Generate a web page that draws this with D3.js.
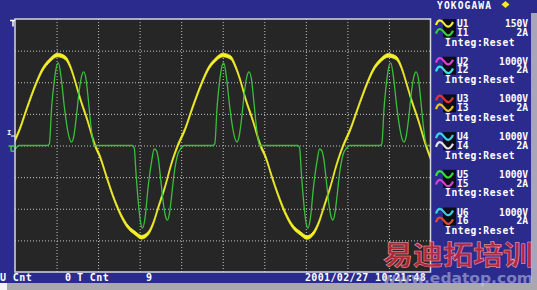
<!doctype html>
<html>
<head>
	<meta charset="utf-8">
	<title>Waveform display</title>
	<script src="https://cdn.jsdelivr.net/npm/d3@7/dist/d3.min.js"></script>
	<style>
		body { margin: 0; background: #2b2b8e; }
		svg { display: block; }
		.mono { font-family: "DejaVu Sans Mono", monospace; font-weight: bold; fill: #ffffff; }
		.grid line { stroke: #c4c4c4; stroke-dasharray: 1,2; }
		.grid path { display: none; }
	</style>
</head>
<body>
	<script>
		// U1 trace: [time in ms, value in divisions]
		var u1Trace = [
			[0,0.17],[0.53,0.49],[1.49,1.22],[2.57,1.98],[3.29,2.39],[4.25,2.71],[5.10,2.86],[6.06,2.77],[6.66,2.49],[7.26,2.01],[7.86,1.47],[8.70,0.81],[9.64,0],
			[10.24,-0.36],[11.03,-1.00],[11.84,-1.63],[12.64,-2.14],[13.44,-2.52],[14.45,-2.77],[15.24,-2.90],[16.05,-2.77],[16.65,-2.45],[17.25,-1.95],[18.05,-1.31],[18.85,-0.55],[19.59,0],
			[20.43,0.49],[21.39,1.22],[22.48,1.98],[23.20,2.40],[24.16,2.72],[25.00,2.86],[25.96,2.78],[26.56,2.48],[27.16,2.02],[27.76,1.46],[28.61,0.80],[29.54,0],
			[30.14,-0.35],[30.94,-1.01],[31.74,-1.62],[32.55,-2.15],[33.34,-2.53],[34.35,-2.78],[35.14,-2.91],[35.95,-2.76],[36.55,-2.44],[37.15,-1.96],[37.96,-1.30],[38.75,-0.56],[39.50,0],
			[40.34,0.50],[41.30,1.21],[42.38,1.97],[43.10,2.39],[44.06,2.71],[44.90,2.85],[45.87,2.77],[46.47,2.49],[47.07,2.00],[47.67,1.47],[48.51,0.82],[49.45,0],[50.00,-0.40]
		];

		// I1 trace: [time in ms, value in divisions]
		var i1Trace = [
			[0,-0.13],[0.46,0],[3.89,0],
			[4.13,0.05],[4.41,1.22],[4.74,2.07],[4.98,2.48],[5.22,2.61],[5.54,2.17],[5.94,1.22],[6.33,0.49],[6.57,0.21],[6.81,0.11],[7.06,0.27],[7.34,0.81],[7.74,1.76],[8.02,2.20],[8.26,2.33],[8.52,2.14],[8.74,1.66],[9.15,0.59],[9.36,0.17],[9.54,0],
			[14.15,0],
			[14.35,-0.08],[14.56,-0.87],[14.87,-1.88],[15.11,-2.42],[15.35,-2.61],[15.65,-2.29],[16.01,-1.34],[16.43,-0.52],[16.75,-0.11],[17.03,-0.17],[17.27,-0.46],[17.57,-1.16],[17.93,-1.98],[18.17,-2.29],[18.35,-2.36],[18.59,-2.14],[18.83,-1.63],[19.16,-0.87],[19.56,-0.30],[19.96,-0.09],[20.36,0],
			[23.80,0],
			[24.04,0.05],[24.32,1.22],[24.64,2.07],[24.88,2.48],[25.12,2.61],[25.44,2.17],[25.84,1.22],[26.24,0.49],[26.48,0.21],[26.72,0.11],[26.96,0.27],[27.25,0.81],[27.64,1.76],[27.92,2.20],[28.16,2.33],[28.43,2.14],[28.64,1.66],[29.05,0.59],[29.27,0.17],[29.45,0],
			[34.05,0],
			[34.25,-0.08],[34.46,-0.87],[34.77,-1.88],[35.01,-2.42],[35.25,-2.61],[35.55,-2.29],[35.91,-1.34],[36.33,-0.52],[36.66,-0.11],[36.93,-0.17],[37.18,-0.46],[37.48,-1.16],[37.84,-1.98],[38.08,-2.29],[38.26,-2.36],[38.50,-2.14],[38.74,-1.63],[39.06,-0.87],[39.46,-0.30],[39.87,-0.09],[40.26,0],
			[43.90,0],
			[44.14,0.05],[44.42,1.22],[44.74,2.07],[44.98,2.48],[45.22,2.61],[45.54,2.17],[45.94,1.22],[46.34,0.49],[46.58,0.21],[46.82,0.11],[47.06,0.27],[47.35,0.81],[47.74,1.76],[48.02,2.20],[48.26,2.33],[48.53,2.14],[48.74,1.66],[49.15,0.59],[49.37,0.17],[49.55,0],[50,0]
		];

		var xTicks = [5, 10, 15, 20, 25, 30, 35, 40, 45];
		var yTicks = [-3, -2, -1, 0, 1, 2, 3];

		var channels = ['1', '2', '3', '4', '5', '6'];
		var voltageRanges = ['150V', '1000V', '1000V', '1000V', '1000V', '1000V'];
		var currentRanges = ['2A', '2A', '2A', '2A', '2A', '2A'];
		var integStatus = 'Integ:Reset';

		var uColors = ['#f2f02c', '#e040e0', '#e03434', '#36d4e4', '#34e034', '#36d4e4'];
		var iColors = ['#38d038', '#34e4e4', '#e8c024', '#e4e4e4', '#d444d4', '#e44a30'];

		var W = 537, H = 290;
		var plot = {left: 15, top: 19, right: 430.5, bottom: 272};

		var svg = d3.select('body').append('svg')
			.attr('width', W)
			.attr('height', H);

		svg.append('rect').attr('width', W).attr('height', H).attr('fill', '#2b2b8e');

		// status strips at the edges
		svg.append('rect').attr('x', 0).attr('y', 283).attr('width', W).attr('height', 7).attr('fill', '#a9a9ad');
		svg.append('rect').attr('x', 0).attr('y', 283).attr('width', 7).attr('height', 7).attr('fill', '#f4f4f4');
		svg.append('rect').attr('x', 531).attr('y', 13).attr('width', 6).attr('height', 270).attr('fill', '#a6a6b8');

		var x = d3.scaleLinear().domain([0, 50]).range([plot.left, plot.right]);
		var y = d3.scaleLinear().domain([-4, 4]).range([plot.bottom, plot.top]);

		svg.append('rect')
			.attr('x', plot.left).attr('y', plot.top)
			.attr('width', plot.right - plot.left).attr('height', plot.bottom - plot.top)
			.attr('fill', '#262626');

		svg.append('g').attr('class', 'grid')
			.attr('transform', 'translate(0,' + plot.bottom + ')')
			.call(d3.axisBottom(x).tickValues(xTicks).tickSize(-(plot.bottom - plot.top)).tickFormat(''));

		svg.append('g').attr('class', 'grid')
			.attr('transform', 'translate(' + plot.left + ',0)')
			.call(d3.axisLeft(y).tickValues(yTicks).tickSize(-(plot.right - plot.left)).tickFormat(''));

		svg.append('clipPath').attr('id', 'clip')
			.append('rect')
			.attr('x', plot.left).attr('y', plot.top)
			.attr('width', plot.right - plot.left).attr('height', plot.bottom - plot.top);

		var traces = svg.append('g').attr('clip-path', 'url(#clip)');

		// U1: a band, because many sweeps overlap
		var band = d3.area()
			.x(function(d) { return x(d[0]); })
			.y0(function(d) { return y(d[1]) - 1.8; })
			.y1(function(d) { return y(d[1]) + 1.8; })
			.curve(d3.curveMonotoneX);

		traces.append('path')
			.datum(u1Trace)
			.attr('d', band)
			.attr('fill', '#f4f02a')
			.attr('stroke', '#f4f02a')
			.attr('stroke-width', 0.8);

		var line = d3.line()
			.x(function(d) { return x(d[0]); })
			.y(function(d) { return y(d[1]); })
			.curve(d3.curveMonotoneX);

		traces.append('path')
			.datum(i1Trace)
			.attr('d', line)
			.attr('fill', 'none')
			.attr('stroke', '#3cbe3c')
			.attr('stroke-width', 1.3);

		svg.append('rect')
			.attr('x', plot.left).attr('y', plot.top)
			.attr('width', plot.right - plot.left).attr('height', plot.bottom - plot.top)
			.attr('fill', 'none')
			.attr('stroke', '#d6d6e0')
			.attr('stroke-width', 1.5);

		// level markers on the left edge
		svg.append('path').attr('d', 'M10,20.5H15M13,20.5V26.5').attr('stroke', '#ffffff').attr('stroke-width', 1.5).attr('fill', 'none');
		svg.append('text').attr('class', 'mono').attr('x', 7).attr('y', 134.5).attr('font-size', 7).text('I');
		svg.append('path').attr('d', 'M11,136H15').attr('stroke', '#ffffff').attr('stroke-width', 1).attr('fill', 'none');
		svg.append('path').attr('d', 'M8.5,146H15M11,146V150.5Q11,152 14,151').attr('stroke', '#46c846').attr('stroke-width', 1.4).attr('fill', 'none');

		// header
		svg.append('text').attr('class', 'mono')
			.attr('x', 437).attr('y', 8.7)
			.attr('font-size', 9.6)
			.attr('letter-spacing', 1.1)
			.text('YOKOGAWA');
		svg.append('path').attr('d', 'M505.5,1L509.5,4.5L505.5,8L501.5,4.5Z').attr('fill', '#f4e830');

		// channel legend
		var wave = 'M0,1.5C2,-4.5 5,-4.5 8,0S14,4.5 17,-1.5';
		var legend = svg.selectAll('g.channel')
			.data(channels)
			.enter()
			.append('g')
			.attr('class', 'channel')
			.attr('transform', function(d, i) { return 'translate(0,' + (27 + 37.7 * i) + ')'; });

		legend.append('rect')
			.attr('x', 443).attr('y', -8).attr('width', 13).attr('height', 18)
			.attr('fill', '#0e0e18');
		legend.append('path')
			.attr('d', wave)
			.attr('transform', 'translate(436,-3.5)')
			.attr('fill', 'none')
			.attr('stroke-width', 2.2)
			.attr('stroke', function(d, i) { return uColors[i]; });
		legend.append('path')
			.attr('d', wave)
			.attr('transform', 'translate(436,5.2)')
			.attr('fill', 'none')
			.attr('stroke-width', 2.2)
			.attr('stroke', function(d, i) { return iColors[i]; });

		legend.append('text').attr('class', 'mono').attr('font-size', 9.6).attr('x', 457).attr('y', 0)
			.text(function(d) { return 'U' + d; });
		legend.append('text').attr('class', 'mono').attr('font-size', 9.6).attr('x', 528).attr('y', 0)
			.attr('text-anchor', 'end')
			.text(function(d, i) { return voltageRanges[i]; });
		legend.append('text').attr('class', 'mono').attr('font-size', 9.6).attr('x', 457).attr('y', 8.7)
			.text(function(d) { return 'I' + d; });
		legend.append('text').attr('class', 'mono').attr('font-size', 9.6).attr('x', 528).attr('y', 8.7)
			.attr('text-anchor', 'end')
			.text(function(d, i) { return currentRanges[i]; });
		legend.append('text').attr('class', 'mono').attr('font-size', 9.6).attr('x', 445).attr('y', 18.5)
			.attr('letter-spacing', 0.6)
			.text(integStatus);

		// watermark
		svg.append('text')
			.attr('x', 383).attr('y', 265)
			.attr('font-family', '"Noto Sans CJK SC", sans-serif')
			.attr('font-weight', 'bold')
			.attr('font-size', 27)
			.attr('textLength', 150)
			.attr('lengthAdjust', 'spacingAndGlyphs')
			.attr('fill', '#c4283c')
			.attr('fill-opacity', 0.85)
			.attr('stroke', '#f0a8b0')
			.attr('stroke-width', 0.5)
			.text('易迪拓培训');

		// bottom status line
		var statusBar = svg.append('g').attr('class', 'mono').attr('font-size', 10);
		statusBar.append('text').attr('x', 0).attr('y', 281).attr('letter-spacing', 0.4).text('U Cnt');
		statusBar.append('text').attr('x', 65).attr('y', 281).text('0');
		statusBar.append('text').attr('x', 77).attr('y', 281).attr('letter-spacing', 0.4).text('T Cnt');
		statusBar.append('text').attr('x', 146).attr('y', 281).text('9');
		statusBar.append('text').attr('x', 305).attr('y', 281).attr('letter-spacing', 0.35).text('2001/02/27 10:21:48');

		svg.append('text')
			.attr('x', 382).attr('y', 283)
			.attr('font-family', '"DejaVu Sans", sans-serif')
			.attr('font-weight', 'bold')
			.attr('font-size', 14)
			.attr('textLength', 151)
			.attr('lengthAdjust', 'spacingAndGlyphs')
			.attr('fill', '#c8cce8')
			.attr('fill-opacity', 0.55)
			.text('www.edatop.com');
	</script>
</body>
</html>
